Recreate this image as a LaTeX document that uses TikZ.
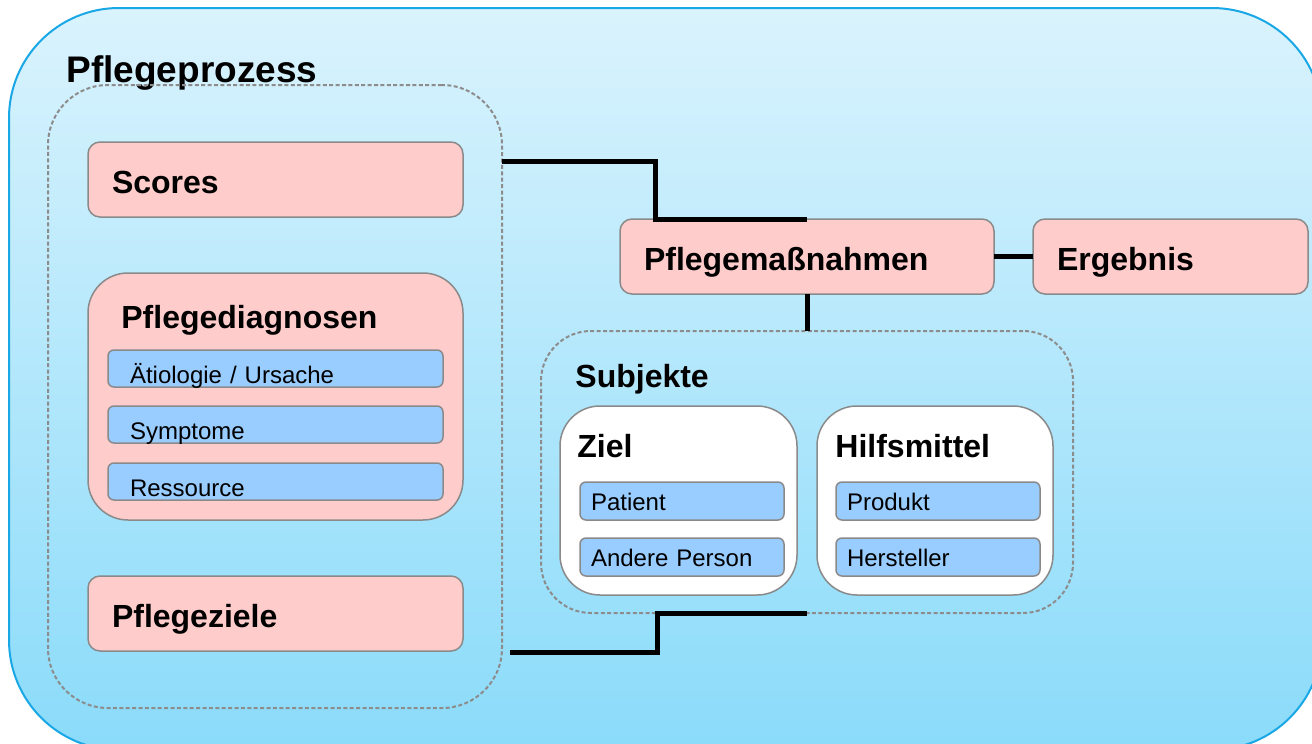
\documentclass[tikz,border=0pt]{standalone}
\usepackage{fontspec}
\setmainfont{Liberation Sans}
\usetikzlibrary{calc,positioning}
\definecolor{skytop}{HTML}{DAF3FD}
\definecolor{skybot}{HTML}{8ADBFA}
\definecolor{skyline}{HTML}{19A7E6}
\definecolor{rose}{HTML}{FFCCCC}
\definecolor{lightblue}{HTML}{99CCFF}
\definecolor{framegray}{HTML}{8A8A8A}
\definecolor{dashgray}{HTML}{8C8C8C}

\begin{document}
\begin{tikzpicture}[x=0.5pt, y=-0.5pt,
  box/.style={draw=framegray, line width=0.75pt, inner sep=0pt, outer sep=0pt, anchor=north west},
  pinkbox/.style={box, fill=rose, rounded corners=6pt, minimum height=37.5pt,
    inner xsep=12pt, text width=163.5pt, align=left, text height=13.5pt,
    text depth=0pt, font=\fontsize{16}{19}\selectfont\bfseries},
  bluebox/.style={box, fill=lightblue, rounded corners=3pt, minimum height=18.5pt,
    inner xsep=11pt, text width=145.5pt, align=left, text height=14.5pt,
    text depth=0pt, font=\fontsize{12}{14}\selectfont},
  itembox/.style={bluebox, minimum height=19pt, inner xsep=5.5pt, text width=91pt,
    text height=9pt},
  holder/.style={box, rounded corners=20pt},
  group/.style={draw=dashgray, line width=1pt, dash pattern=on 2pt off 1.2pt,
    inner sep=0pt, outer sep=0pt, anchor=north west},
  head/.style={inner sep=0pt, anchor=base west, font=\fontsize{16}{19}\selectfont\bfseries},
  link/.style={line width=2.5pt}]
\path[use as bounding box] (0,0) rectangle (1312,744);
\clip (0,0) rectangle (1312,744);
%
\path[draw=skyline, line width=1pt, top color=skytop, bottom color=skybot,
  rounded corners=55pt] (9,8) rectangle (1322,750);
\node[head, font=\fontsize{18.5}{22}\selectfont\bfseries] (tproz) at (66,82) {Pflegeprozess};
%
\node[group, rounded corners=30pt, minimum width=227pt, minimum height=311.5pt] (proz) at (48,85) {};
\node[group, rounded corners=25pt, minimum width=266pt, minimum height=141pt] (subj) at (541,331) {};
%
\node[pinkbox] (scores) at (88,142) {Scores};
\node[holder, fill=rose, minimum width=187.5pt, minimum height=123.5pt] (diag) at (88,273) {};
\node[head] (tdiag) at (121,328) {Pflegediagnosen};
\node[bluebox] (d1) at (108,350) {Ätiologie / Ursache};
\node[bluebox, below=9.5pt of d1.south west, anchor=north west] (d2) {Symptome};
\node[bluebox, below=10pt of d2.south west, anchor=north west] (d3) {Ressource};
\node[pinkbox] (ziele) at (88,576) {Pflegeziele};
%
\node[pinkbox, text width=163pt] (mass) at (620,219) {Pflegemaßnahmen};
\node[pinkbox, text width=113.5pt, right=19.5pt of mass.north east, anchor=north west] (erg) {Ergebnis};
%
\node[head] (tsubj) at (575,387) {Subjekte};
\node[holder, fill=white, minimum width=118.5pt, minimum height=94.5pt] (ziel) at (560,406) {};
\node[holder, fill=white, minimum width=118pt, minimum height=94.5pt,
  right=10pt of ziel.north east, anchor=north west] (hilf) {};
\node[head] (tziel) at (577,457) {Ziel};
\node[head] (thilf) at (835,457) {Hilfsmittel};
\node[itembox] (z1) at (580,482) {Patient};
\node[itembox, below=9pt of z1.south west, anchor=north west] (z2) {Andere Person};
\node[itembox] (h1) at (836,482) {Produkt};
\node[itembox, below=9pt of h1.south west, anchor=north west] (h2) {Hersteller};
%
\draw[link] (proz.east |- 0,161) -| ($(mass.north west)+(35,0)$) -- (mass.north);
\draw[link] ($(proz.east |- 0,652)+(8,0)$) -| ($(subj.south west)+(116,0)$) -- (subj.south);
\draw[link] (mass.east) -- (erg.west);
\draw[link] (mass.south) -- (subj.north);
\end{tikzpicture}
\end{document}
